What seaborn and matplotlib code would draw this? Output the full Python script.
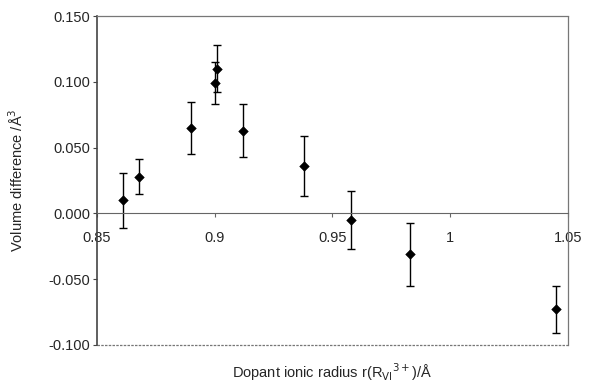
import matplotlib
matplotlib.use('Agg')
import matplotlib.pyplot as plt
import pandas as pd
import seaborn as sns

# dopant ionic radius (Å) vs volume difference (Å^3)
radius = [0.861, 0.868, 0.890, 0.900, 0.901, 0.912, 0.938, 0.958, 0.983, 1.045]
vol_diff = [0.010, 0.028, 0.065, 0.099, 0.110, 0.063, 0.036, -0.005, -0.031, -0.073]
vol_err = [0.021, 0.013, 0.020, 0.016, 0.018, 0.020, 0.023, 0.022, 0.024, 0.018]

df = pd.DataFrame({'radius': radius, 'vol': vol_diff, 'err': vol_err})

sns.set_style('white')
plt.rcParams['font.family'] = ['Liberation Sans', 'DejaVu Sans']

fig, ax = plt.subplots(figsize=(5.97, 3.85), dpi=100)
fig.subplots_adjust(left=0.1625, right=0.9514, top=0.9584, bottom=0.1039)

ax.errorbar(df['radius'], df['vol'], yerr=df['err'], fmt='none',
            ecolor='black', elinewidth=1, capsize=3, capthick=1, zorder=2)
sns.scatterplot(data=df, x='radius', y='vol', marker='D', s=24,
                color='black', edgecolor='black', ax=ax, zorder=3)

ax.set_xlim(0.85, 1.05)
ax.set_ylim(-0.100, 0.150)
ax.set_xticks([0.85, 0.9, 0.95, 1.0, 1.05])
ax.set_xticklabels(['0.85', '0.9', '0.95', '1', '1.05'])
ax.set_yticks([-0.100, -0.050, 0.000, 0.050, 0.100, 0.150])
ax.set_yticklabels(['-0.100', '-0.050', '0.000', '0.050', '0.100', '0.150'])

# x axis crosses at zero, frame drawn dotted
ax.spines['bottom'].set_position(('data', 0))
ax.spines['bottom'].set_color('#666666')
ax.spines['left'].set_color('#444444')
ax.spines['left'].set_linewidth(1.2)
for s in ['top', 'right']:
    ax.spines[s].set_linestyle((0, (2, 1)))
    ax.spines[s].set_color('#777777')
    ax.spines[s].set_linewidth(0.9)
ax.axhline(-0.100, color='#777777', lw=0.9, ls=(0, (2, 1)), zorder=1, clip_on=False)

ax.tick_params(axis='x', direction='out', length=3, width=0.8, color='#666666',
               pad=10, labelsize=10.5)
ax.tick_params(axis='y', direction='out', length=3, width=0.8, color='#444444',
               pad=2, labelsize=10.5)
ax.tick_params(bottom=True, left=True)

ax.set_xlabel(r'Dopant ionic radius r(R$_{\mathrm{VI}}$$^{\mathrm{3+}}$)/Å', fontsize=10.5)
ax.xaxis.set_label_coords(0.5, -0.05)
ax.set_ylabel(r'Volume difference /Å$^{\mathrm{3}}$', fontsize=10.5)
ax.yaxis.set_label_coords(-0.15, 0.5)

fig.savefig('out.png', dpi=100)
